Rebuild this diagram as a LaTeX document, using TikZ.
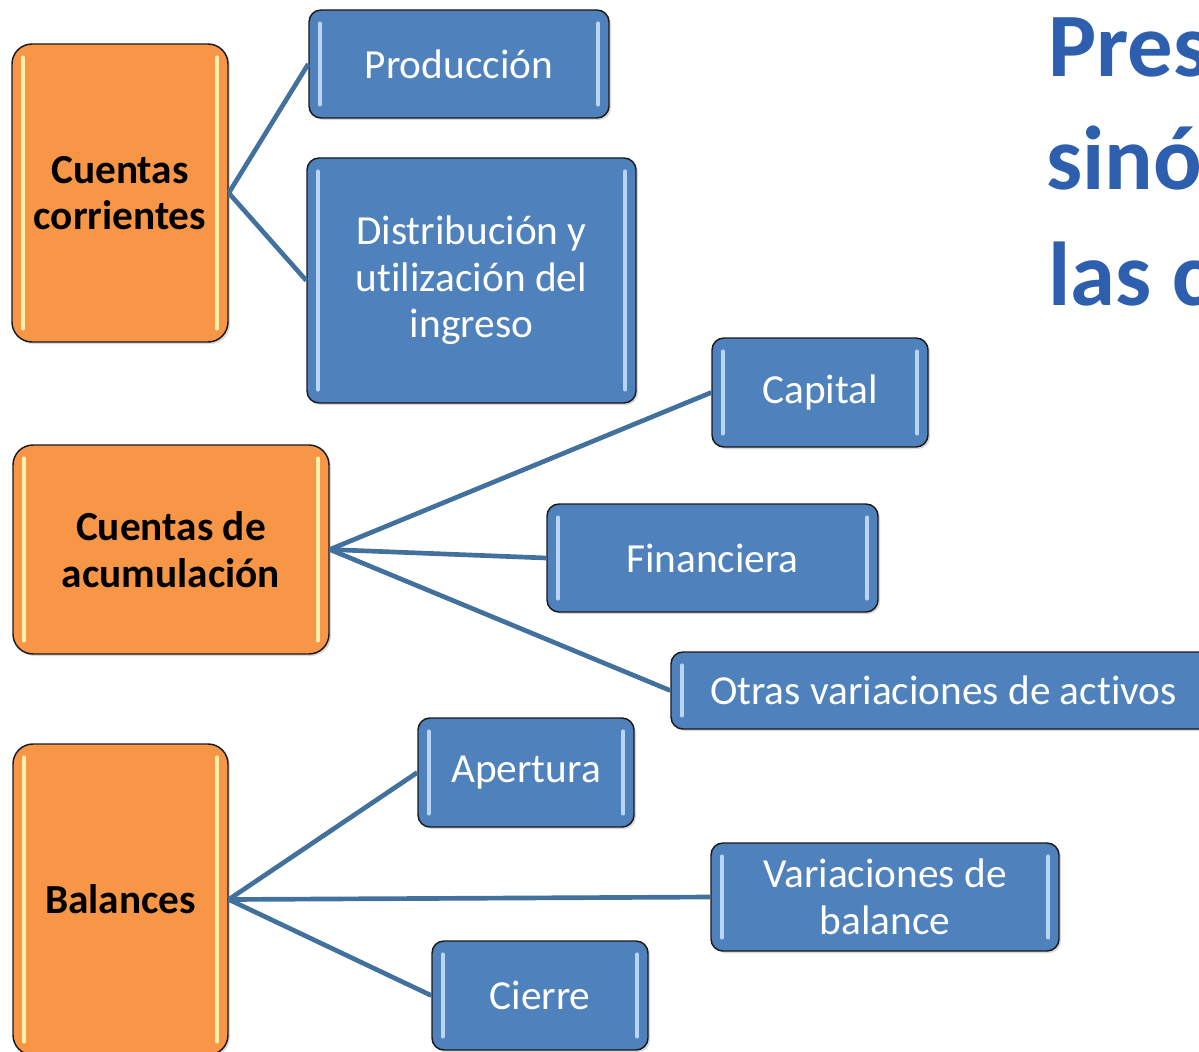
\documentclass[tikz,border=0pt]{standalone}
\usepackage{fontspec}
\setmainfont{Carlito}[Ligatures=NoCommon]
\usetikzlibrary{shadows}
\definecolor{orangefill}{HTML}{F79646}
\definecolor{bluefill}{HTML}{4F81BD}
\definecolor{linkblue}{HTML}{41719C}
\definecolor{titleblue}{HTML}{2D5FAE}
\definecolor{bluehl}{HTML}{B9D5F3}
\definecolor{orangehl}{HTML}{FFF0B0}
\definecolor{boxborder}{HTML}{1A1A1A}
\tikzset{
  hlines/.style={path picture={
    \draw[#1, line width=2.8pt, line cap=round]
      ([xshift=8pt,yshift=-10pt]path picture bounding box.north west) --
      ([xshift=8pt,yshift=10pt]path picture bounding box.south west);
    \draw[#1, line width=2.8pt, line cap=round]
      ([xshift=-8pt,yshift=-10pt]path picture bounding box.north east) --
      ([xshift=-8pt,yshift=10pt]path picture bounding box.south east);
  }},
  basebox/.style={draw=boxborder, line width=1.1pt, align=center, inner sep=2pt,
    drop shadow={opacity=0.3, shadow xshift=1.5pt, shadow yshift=-1.5pt}},
  catbox/.style={basebox, fill=orangefill, rounded corners=15pt,
    font=\fontsize{31}{35}\selectfont\bfseries, text=black, hlines=orangehl},
  subbox/.style={basebox, fill=bluefill, rounded corners=9pt,
    font=\fontsize{31}{35}\selectfont, text=white, hlines=bluehl},
  link/.style={draw=linkblue, line width=3.5pt},
  titletext/.style={font=\fontsize{68}{80}\selectfont\bfseries, text=titleblue,
    anchor=base west, inner sep=0pt}
}
\begin{document}
\begin{tikzpicture}[x=0.75pt, y=-0.75pt]
\useasboundingbox[fill=white] (0,0) rectangle (1199,1052);

% category boxes
\node[catbox, minimum width=162pt, minimum height=223.5pt] (cc) at (120,193) {Cuentas\\corrientes};
\node[catbox, minimum width=237pt, minimum height=156.75pt] (ca) at (171,549.5) {Cuentas de\\acumulación};
\node[catbox, minimum width=161.25pt, minimum height=233.25pt] (bal) at (120.5,899.5) {Balances};

% sub boxes
\node[subbox, minimum width=225pt, minimum height=81pt] (prod) at (459,64) {Producción};
\node[subbox, minimum width=246.75pt, minimum height=183.75pt] (dist) at (471.5,280.5) {Distribución y\\utilización del\\ingreso};
\node[subbox, minimum width=162pt, minimum height=81.75pt] (cap) at (820,392.5) {Capital};
\node[subbox, minimum width=248.25pt, minimum height=81pt] (fin) at (712.5,558) {Financiera};
\node[subbox, minimum width=408.75pt, minimum height=57.75pt] (otras) at (943.5,690.5) {Otras variaciones de activos};
\node[subbox, minimum width=162pt, minimum height=81.75pt] (ap) at (526,772.5) {Apertura};
\node[subbox, minimum width=261pt, minimum height=81pt] (var) at (885,897) {Variaciones de\\balance};
\node[subbox, minimum width=162pt, minimum height=81.75pt] (cie) at (540,995.5) {Cierre};

% connectors
\draw[link] (cc.east) -- (prod.west);
\draw[link] (cc.east) -- (dist.west);
\draw[link] (ca.east) -- (cap.west);
\draw[link] (ca.east) -- (fin.west);
\draw[link] (ca.east) -- (otras.west);
\draw[link] (bal.east) -- (ap.west);
\draw[link] (bal.east) -- (var.west);
\draw[link] (bal.east) -- (cie.west);

% title (cut off at the right edge, as in the reference)
\node[titletext] (t1) at (1048,77) {Pres};
\node[titletext] (t2) at (1046,190) {sinó};
\node[titletext] (t3) at (1048,305) {las c};
\end{tikzpicture}
\end{document}
